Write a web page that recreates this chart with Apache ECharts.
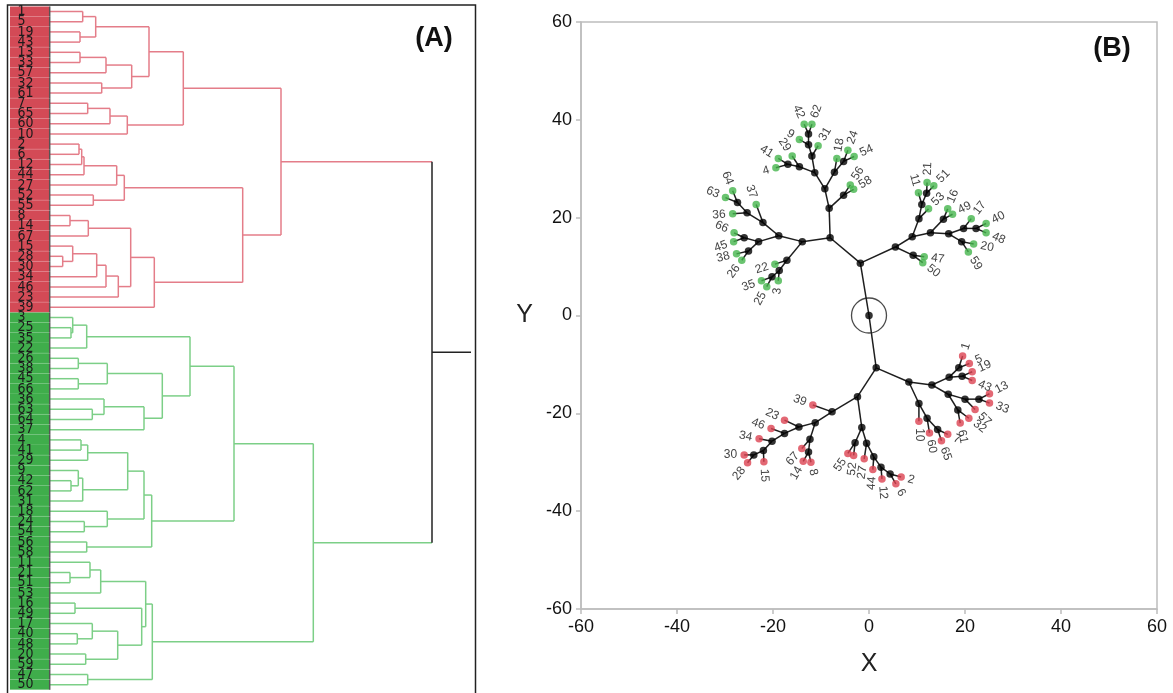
<!DOCTYPE html>
<html><head><meta charset="utf-8">
<script src="https://cdn.jsdelivr.net/npm/echarts@6/dist/echarts.min.js"></script>
<style>html,body{margin:0;padding:0;background:#fff}#c{width:1173px;height:693px}</style>
</head><body><div id="c"></div>
<script>
// ===== Panel A : dendrogram. Each join = [distance, left, right]; leaves are labels =====
const redTopTree = [133.3,
  [99, [45.7, [32.7, '1', '5'], [30, '19', '43']], [81.7, [56, [30, '13', '33'], '57'], [51.7, '32', '61']]],
  [77.3, [60, [37.7, '7', '65'], '60'], '10']];
const redBottomTree = [192.7,
  [74.3, [66.7, [34, [31.7, [29, '2', '6'], '12'], '44'], '27'], [43.3, '52', '55']],
  [104.3, [80.7, [38.3, [20, '8', '14'], '67'], [68.3, [56, [46.7, [22.7, '15', [12.7, '28', '30']], '34'], '46'], '23']], '39']];
const greenTopTree = [184,
  [140, [36.7, [22.7, '3', [21, '25', '35']], '22'],
        [112.3, [57.3, [28.3, '26', '38'], [28.3, '45', '66']], [94, [54, '36', [42.3, '63', '64']], '37']]],
  [101.7, [94, [77.7, [37.7, [31, '4', '41'], '29'], [32.7, [28.3, '9', [21, '42', '62']], '31']],
              [57.3, '18', [34.3, '24', '54']]], [36.7, '56', '58']]];
const greenBottomTree = [102.3,
  [95.7, [50.7, [40, '11', [20, '21', '51']], '53'],
         [91.7, [25, '16', '49'], [67.7, [42.3, '17', [27.3, '40', '48']], [35.7, '20', '59']]]],
  [37.7, '47', '50']];
const redJoin = 231, greenJoin = 263.3, rootJoin = 382, rootTail = 421;

// ===== Panel B : constellation plot nodes [id, X, Y, parent] =====
const rootNode = ['R', 0, 0, null];
const greenNodes = [
  ['G0', -1.8, 10.7, 'R'], ['GA', -8.1, 15.9, 'G0'], ['GL', -13.9, 15.1, 'GA'], ['GL1', -18.8, 16.3, 'GL'],
  ['GL1a', -23.0, 15.1, 'GL1'], ['GL1a1', -26.0, 15.9, 'GL1a'], ['66', -28.1, 16.9, 'GL1a1'], ['45', -28.2, 15.1, 'GL1a1'],
  ['GL1a2', -25.1, 13.2, 'GL1a'], ['38', -27.6, 12.6, 'GL1a2'], ['26', -26.5, 11.3, 'GL1a2'],
  ['GL1b', -22.1, 19.0, 'GL1'], ['37', -23.5, 22.7, 'GL1b'], ['GL1b1', -25.4, 21.0, 'GL1b'], ['36', -28.4, 20.8, 'GL1b1'],
  ['GL1b2', -27.4, 23.1, 'GL1b1'], ['63', -29.9, 24.1, 'GL1b2'], ['64', -28.4, 25.5, 'GL1b2'],
  ['GL2', -17.1, 11.3, 'GL'], ['22', -19.6, 10.5, 'GL2'], ['GL2a', -18.7, 9.2, 'GL2'], ['3', -18.9, 7.1, 'GL2a'],
  ['GL2b', -20.2, 7.9, 'GL2a'], ['35', -22.4, 7.1, 'GL2b'], ['25', -21.3, 5.9, 'GL2b'],
  ['GT', -8.3, 21.9, 'GA'], ['GT1', -5.3, 24.6, 'GT'], ['56', -3.9, 26.7, 'GT1'], ['58', -3.2, 25.8, 'GT1'],
  ['GT2', -9.2, 25.9, 'GT'], ['GT2a', -11.3, 29.2, 'GT2'], ['GT2a1', -14.5, 30.4, 'GT2a'], ['29', -16.0, 32.6, 'GT2a1'],
  ['GT2a1a', -16.9, 30.9, 'GT2a1'], ['4', -19.4, 30.2, 'GT2a1a'], ['41', -18.9, 32.1, 'GT2a1a'],
  ['GT2a2', -11.9, 32.6, 'GT2a'], ['31', -10.6, 34.7, 'GT2a2'], ['GT2a2a', -12.6, 34.9, 'GT2a2'], ['9', -14.5, 36.0, 'GT2a2a'],
  ['GT2a2b', -12.6, 37.1, 'GT2a2a'], ['42', -13.5, 39.1, 'GT2a2b'], ['62', -11.9, 39.1, 'GT2a2b'],
  ['GT2b', -7.2, 29.3, 'GT2'], ['18', -6.7, 32.1, 'GT2b'], ['GT2b1', -5.3, 31.5, 'GT2b'], ['24', -4.4, 33.8, 'GT2b1'], ['54', -3.1, 32.5, 'GT2b1'],
  ['GB', 5.5, 14.0, 'G0'], ['GB1', 9.2, 12.3, 'GB'], ['47', 11.5, 12.0, 'GB1'], ['50', 11.2, 10.8, 'GB1'],
  ['GB2', 9.0, 16.1, 'GB'], ['GB2a', 10.4, 19.8, 'GB2'], ['53', 12.4, 21.8, 'GB2a'], ['GB2a1', 11.0, 22.7, 'GB2a'],
  ['11', 10.3, 25.1, 'GB2a1'], ['GB2a1a', 12.0, 25.0, 'GB2a1'], ['21', 12.1, 27.2, 'GB2a1a'], ['51', 13.5, 26.5, 'GB2a1a'],
  ['GB2b', 12.8, 16.9, 'GB2'], ['GB2b1', 15.5, 19.7, 'GB2b'], ['16', 16.4, 21.8, 'GB2b1'], ['49', 17.4, 20.7, 'GB2b1'],
  ['GB2b2', 16.6, 16.7, 'GB2b'], ['GB2b2a', 19.7, 17.8, 'GB2b2'], ['17', 21.3, 19.8, 'GB2b2a'], ['GB2b2a1', 22.3, 17.8, 'GB2b2a'],
  ['40', 24.4, 18.8, 'GB2b2a1'], ['48', 24.4, 16.9, 'GB2b2a1'], ['GB2b2b', 19.3, 15.1, 'GB2b2'], ['20', 21.8, 14.6, 'GB2b2b'], ['59', 20.7, 13.0, 'GB2b2b']
];
const redNodes = [
  ['R0', 1.5, -10.7, 'R'], ['RA', 8.3, -13.6, 'R0'], ['RA1', 13.1, -14.2, 'RA'], ['RA1a', 16.7, -12.6, 'RA1'],
  ['RA1a1', 18.7, -10.7, 'RA1a'], ['1', 19.5, -8.3, 'RA1a1'], ['5', 20.9, -9.8, 'RA1a1'],
  ['RA1a2', 19.4, -12.4, 'RA1a'], ['19', 21.5, -11.5, 'RA1a2'], ['43', 21.5, -13.3, 'RA1a2'],
  ['RA1b', 16.5, -16.1, 'RA1'], ['RA1b1', 20.0, -17.1, 'RA1b'], ['57', 22.1, -19.2, 'RA1b1'], ['RA1b1a', 22.9, -17.1, 'RA1b1'],
  ['13', 25.1, -16.0, 'RA1b1a'], ['33', 25.1, -17.9, 'RA1b1a'], ['RA1b2', 18.5, -19.3, 'RA1b'], ['32', 20.8, -21.0, 'RA1b2'], ['61', 19.0, -22.0, 'RA1b2'],
  ['RA2', 10.4, -18.0, 'RA'], ['10', 10.4, -21.6, 'RA2'], ['RA2a', 12.1, -21.0, 'RA2'], ['60', 12.6, -24.0, 'RA2a'],
  ['RA2a1', 14.3, -23.3, 'RA2a'], ['7', 16.4, -24.3, 'RA2a1'], ['65', 15.1, -25.6, 'RA2a1'],
  ['RB', -2.4, -16.6, 'R0'], ['RB1', -7.7, -19.7, 'RB'], ['39', -11.7, -18.3, 'RB1'], ['RB1a', -11.2, -21.9, 'RB1'],
  ['RB1a1', -14.6, -22.8, 'RB1a'], ['23', -17.6, -21.4, 'RB1a1'], ['RB1a1a', -17.6, -24.1, 'RB1a1'], ['46', -20.4, -23.1, 'RB1a1a'],
  ['RB1a1a1', -20.2, -25.7, 'RB1a1a'], ['34', -22.9, -25.2, 'RB1a1a1'], ['RB1a1a1a', -22.0, -27.6, 'RB1a1a1'], ['15', -21.9, -29.9, 'RB1a1a1a'],
  ['RB1a1a1a1', -24.0, -28.5, 'RB1a1a1a'], ['30', -26.0, -28.5, 'RB1a1a1a1'], ['28', -25.3, -30.1, 'RB1a1a1a1'],
  ['RB1a2', -12.3, -25.3, 'RB1a'], ['67', -14.0, -27.2, 'RB1a2'], ['RB1a2a', -12.6, -27.9, 'RB1a2'], ['14', -13.7, -29.8, 'RB1a2a'], ['8', -12.1, -30.0, 'RB1a2a'],
  ['RB2', -1.5, -22.9, 'RB'], ['RB2a', -2.9, -26.0, 'RB2'], ['55', -4.4, -28.2, 'RB2a'], ['52', -3.2, -28.6, 'RB2a'],
  ['RB2b', -0.5, -26.1, 'RB2'], ['27', -1.0, -29.3, 'RB2b'], ['RB2b1', 1.0, -28.9, 'RB2b'], ['44', 0.8, -31.5, 'RB2b1'],
  ['RB2b1a', 2.5, -31.0, 'RB2b1'], ['12', 2.7, -33.4, 'RB2b1a'], ['RB2b1a1', 4.4, -32.4, 'RB2b1a'], ['6', 5.6, -34.4, 'RB2b1a1'], ['2', 6.7, -33.0, 'RB2b1a1']
];
const axisTicksB = [-60, -40, -20, 0, 20, 40, 60];

// ===== styles =====
const FONT = '"Liberation Sans", Arial, sans-serif';
const lineColors = ['#e47d89', '#7ccf87', '#222222'];
const stripColors = ['#d34a56', '#3fad4b'];
const leafColors = ['#dc4251', '#45b54c'];

// ===== build dendrogram segments =====
const segs = [], leaves = [];
function walk(node, color) {
  if (typeof node === 'string') { leaves.push([node, color]); return { h: 0, y: leaves.length - 1 }; }
  const a = walk(node[1], color), b = walk(node[2], color);
  segs.push([a.h, a.y, node[0], a.y, color], [b.h, b.y, node[0], b.y, color], [node[0], a.y, node[0], b.y, color]);
  return { h: node[0], y: (a.y + b.y) / 2 };
}
const rr = walk([redJoin, redTopTree, redBottomTree], 0);
const gr = walk([greenJoin, greenTopTree, greenBottomTree], 1);
const midY = (rr.y + gr.y) / 2;
segs.push([rr.h, rr.y, rootJoin, rr.y, 0], [gr.h, gr.y, rootJoin, gr.y, 1],
          [rootJoin, rr.y, rootJoin, gr.y, 2], [rootJoin, midY, rootTail, midY, 2]);
const nLeaves = leaves.length;
const stripData = leaves.map((l, i) => [-20, i, l[1]]);

// ===== build constellation =====
const all = [rootNode].concat(greenNodes, redNodes);
const byId = {}; all.forEach(n => byId[n[0]] = n);
const isLeaf = id => /^\d+$/.test(id);
const edges = all.filter(n => n[3]).map(n => [n[1], n[2], byId[n[3]][1], byId[n[3]][2]]);
const internal = all.filter(n => !isLeaf(n[0])).map(n => [n[1], n[2]]);
const gLeaves = greenNodes.filter(n => isLeaf(n[0]));
const rLeaves = redNodes.filter(n => isLeaf(n[0]));
const leafLabelsB = gLeaves.concat(rLeaves).map(n => n[0]);
const labelData = gLeaves.concat(rLeaves).map((n, i) => [n[1], n[2], byId[n[3]][1], byId[n[3]][2], i]);

const chart = echarts.init(document.getElementById('c'), null, { renderer: 'canvas' });
const axisB = {
  type: 'value', min: axisTicksB[0], max: axisTicksB[axisTicksB.length - 1], interval: 20,
  nameLocation: 'middle', nameTextStyle: { fontSize: 25, color: '#222', fontFamily: FONT },
  axisLine: { onZero: false, lineStyle: { color: '#bdbdbd', width: 1.5 } },
  axisTick: { length: 5, lineStyle: { color: '#bdbdbd', width: 1.5 } },
  axisLabel: { fontSize: 18, color: '#111', margin: 9, fontFamily: FONT }, splitLine: { show: false }
};
const option = {
  animation: false,
  backgroundColor: '#fff',
  grid: [
    { left: 10, width: 462, top: 6.4, height: 683.4 },
    { left: 581, right: 16, top: 22, bottom: 84, show: true, borderColor: '#bdbdbd', borderWidth: 1.5, backgroundColor: 'transparent' }
  ],
  xAxis: [
    { gridIndex: 0, type: 'value', min: -40, max: 422, show: false },
    Object.assign({}, axisB, { gridIndex: 1, name: 'X', nameGap: 43 })
  ],
  yAxis: [
    { gridIndex: 0, type: 'value', min: -0.5, max: nLeaves - 0.5, inverse: true, show: false },
    Object.assign({}, axisB, { gridIndex: 1, name: 'Y', nameRotate: 0, nameGap: 48 })
  ],
  graphic: [
    { type: 'rect', shape: { x: 7.5, y: 5, width: 468, height: 720 }, style: { fill: 'none', stroke: '#222', lineWidth: 1.5 }, z: 100 },
    { type: 'text', x: 434, y: 39, style: { text: '(A)', font: 'bold 27px ' + FONT, fill: '#111', align: 'center', verticalAlign: 'middle', textAlign: 'center', textVerticalAlign: 'middle' }, z: 100 },
    { type: 'text', x: 1112, y: 49, style: { text: '(B)', font: 'bold 27px ' + FONT, fill: '#111', align: 'center', verticalAlign: 'middle', textAlign: 'center', textVerticalAlign: 'middle' }, z: 100 }
  ],
  series: [
    { type: 'custom', xAxisIndex: 0, yAxisIndex: 0, data: segs, encode: { x: [0, 2], y: [1, 3] }, silent: true,
      renderItem: (p, api) => {
        const a = api.coord([api.value(0), api.value(1)]), b = api.coord([api.value(2), api.value(3)]);
        return { type: 'line', shape: { x1: a[0], y1: a[1], x2: b[0], y2: b[1] },
                 style: { stroke: lineColors[api.value(4)], lineWidth: 1.5 } };
      } },
    { type: 'custom', xAxisIndex: 0, yAxisIndex: 0, data: stripData, encode: { x: 0, y: 1 }, silent: true,
      renderItem: (p, api) => {
        const i = api.value(1), c = api.value(2);
        const a = api.coord([-40, i - 0.5]), b = api.coord([-1, i + 0.5]), t = api.coord([-32.5, i]), e = api.coord([-0.3, i]);
        return { type: 'group', children: [
          { type: 'rect', shape: { x: a[0], y: a[1], width: b[0] - a[0], height: b[1] - a[1] }, style: { fill: stripColors[c] } },
          { type: 'line', shape: { x1: a[0], y1: b[1], x2: b[0], y2: b[1] }, style: { stroke: 'rgba(255,255,255,0.22)', lineWidth: 1 } },
          { type: 'line', shape: { x1: e[0], y1: a[1], x2: e[0], y2: b[1] }, style: { stroke: '#555', lineWidth: 1.5 } },
          { type: 'text', x: t[0], y: t[1], style: { text: leaves[i][0], fill: '#1b1b1b',
            font: '14px "DejaVu Sans Condensed", "Liberation Sans Narrow", "Liberation Sans", sans-serif',
            align: 'left', verticalAlign: 'middle', textAlign: 'left', textVerticalAlign: 'middle' } }
        ] };
      } },
    { type: 'custom', xAxisIndex: 1, yAxisIndex: 1, data: edges, encode: { x: [0, 2], y: [1, 3] }, silent: true, z: 2,
      renderItem: (p, api) => {
        const a = api.coord([api.value(0), api.value(1)]), b = api.coord([api.value(2), api.value(3)]);
        return { type: 'line', shape: { x1: a[0], y1: a[1], x2: b[0], y2: b[1] }, style: { stroke: '#1e1e1e', lineWidth: 1.5 } };
      } },
    { type: 'scatter', xAxisIndex: 1, yAxisIndex: 1, data: [[rootNode[1], rootNode[2]]], symbol: 'circle', symbolSize: 35, z: 3,
      itemStyle: { color: 'rgba(0,0,0,0)', borderColor: '#1e1e1e', borderWidth: 1.3 }, silent: true },
    { type: 'scatter', xAxisIndex: 1, yAxisIndex: 1, data: internal, symbolSize: 7.5, z: 4, itemStyle: { color: '#000' }, silent: true },
    { type: 'scatter', xAxisIndex: 1, yAxisIndex: 1, data: gLeaves.map(n => [n[1], n[2]]), symbolSize: 7.5, z: 4, itemStyle: { color: leafColors[1] }, silent: true },
    { type: 'scatter', xAxisIndex: 1, yAxisIndex: 1, data: rLeaves.map(n => [n[1], n[2]]), symbolSize: 7.5, z: 4, itemStyle: { color: leafColors[0] }, silent: true },
    { type: 'custom', xAxisIndex: 1, yAxisIndex: 1, data: labelData, encode: { x: 0, y: 1 }, silent: true, z: 5,
      renderItem: (p, api) => {
        const a = api.coord([api.value(0), api.value(1)]), b = api.coord([api.value(2), api.value(3)]);
        let dx = a[0] - b[0], dy = a[1] - b[1];
        const L = Math.hypot(dx, dy) || 1; dx /= L; dy /= L;
        const ang = Math.atan2(-dy, dx), flip = dx < 0;
        return { type: 'text', x: a[0] + dx * 7, y: a[1] + dy * 7, rotation: flip ? ang + Math.PI : ang,
          style: { text: leafLabelsB[api.value(4)], fill: '#444', font: '12px ' + FONT,
            align: flip ? 'right' : 'left', verticalAlign: 'middle', textAlign: flip ? 'right' : 'left', textVerticalAlign: 'middle' } };
      } }
  ]
};
chart.setOption(option);
</script></body></html>
